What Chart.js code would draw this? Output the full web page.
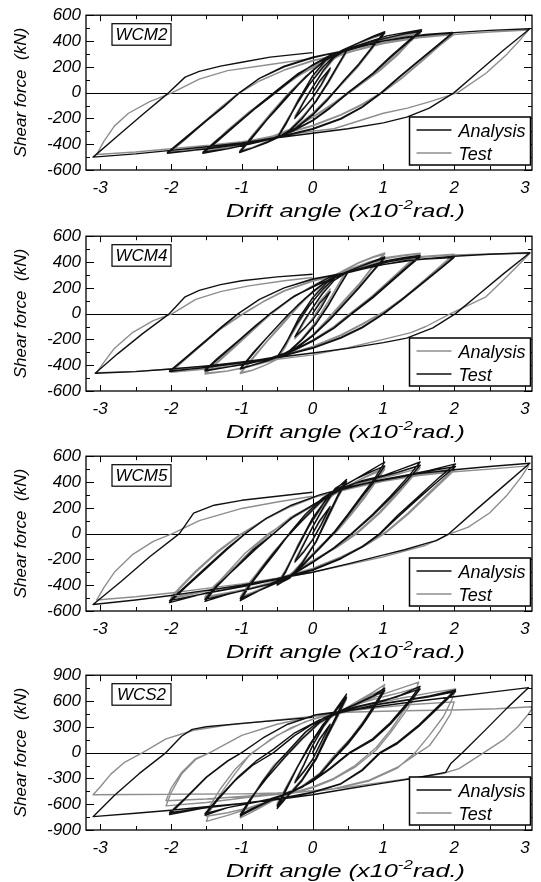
<!DOCTYPE html>
<html>
<head>
<meta charset="utf-8">
<title>Hysteresis loops</title>
<script src="https://cdn.jsdelivr.net/npm/chart.js@4.4.0/dist/chart.umd.min.js"></script>
<style>
  html, body { margin: 0; padding: 0; background: #fff; }
  #wrap { position: relative; width: 541px; height: 882px; overflow: hidden; }
  #wrap canvas { position: absolute; left: 0; }
</style>
</head>
<body>
<div id="wrap"></div>
<script>
// specimen names, series names and axis ticks
const specimens = ['WCM2', 'WCM4', 'WCM5', 'WCS2'];
const seriesLabels = ['Analysis', 'Test'];
const xTicks = [-3, -2, -1, 0, 1, 2, 3];
const yTicksSmall = [-600, -400, -200, 0, 200, 400, 600];
const yTicksLarge = [-900, -600, -300, 0, 300, 600, 900];

// [drift angle (x10^-2 rad), shear force (kN)]
const wcm2Analysis = [
  [0,0],[0.1,90],[0.25,190],
  [0.12,60],[0,-40],[-0.12,-120],[-0.25,-200],
  [-0.12,-70],[0,40],[0.15,170],[0.3,270],[0.5,340],
  [0.38,230],[0.22,80],[0.05,-70],[-0.15,-200],[-0.32,-290],[-0.5,-350],
  [-0.38,-240],[-0.22,-90],[-0.05,60],[0.15,200],[0.32,290],[0.5,345],
  [0.38,235],[0.22,85],[0.05,-65],[-0.15,-205],[-0.32,-295],[-0.5,-352],
  [-0.38,-250],[-0.2,-60],[0,130],[0.2,260],[0.42,330],[0.65,385],[0.85,435],[1.02,472],
  [0.85,360],[0.65,220],[0.45,100],[0.2,-60],[0,-170],[-0.25,-280],[-0.45,-335],[-0.65,-385],[-0.85,-430],[-1.03,-465],
  [-0.85,-350],[-0.65,-215],[-0.45,-95],[-0.2,60],[0,170],[0.25,285],[0.45,335],[0.65,385],[0.85,430],[1.02,462],
  [0.85,355],[0.65,215],[0.45,95],[0.2,-65],[0,-175],[-0.25,-285],[-0.45,-340],[-0.65,-390],[-0.85,-430],[-1.03,-458],
  [-0.85,-340],[-0.6,-180],[-0.35,-20],[-0.1,120],[0.15,240],[0.45,330],[0.8,395],[1.05,440],[1.3,465],[1.54,487],
  [1.35,400],[1.1,280],[0.85,150],[0.5,0],[0.25,-115],[0,-215],[-0.3,-300],[-0.6,-360],[-0.9,-400],[-1.2,-435],[-1.55,-470],
  [-1.35,-380],[-1.1,-260],[-0.8,-120],[-0.52,0],[-0.25,120],[0,215],[0.25,290],[0.5,335],[0.8,390],[1.1,430],[1.3,455],[1.54,476],
  [1.35,390],[1.1,270],[0.85,145],[0.5,-5],[0.25,-120],[0,-220],[-0.3,-305],[-0.6,-362],[-0.9,-400],[-1.2,-435],[-1.55,-462],
  [-1.35,-370],[-1.05,-230],[-0.75,-90],[-0.5,20],[-0.2,150],[0.1,240],[0.45,320],[0.9,390],[1.3,430],[1.6,450],[1.98,466],
  [1.75,360],[1.45,225],[1.2,110],[0.97,0],[0.7,-110],[0.4,-200],[0,-280],[-0.5,-345],[-1,-395],[-1.5,-435],[-2.05,-470],
  [-1.8,-360],[-1.5,-220],[-1.25,-110],[-1.03,0],[-0.75,110],[-0.4,200],[0,270],[0.45,325],[0.9,390],[1.3,430],[1.6,448],[1.98,460],
  [1.75,355],[1.45,220],[1.2,105],[0.97,-5],[0.7,-115],[0.4,-205],[0,-285],[-0.5,-350],[-1,-400],[-1.5,-438],[-2.05,-465],
  [-1.8,-350],[-1.5,-215],[-1.25,-105],[-1.03,0],[-0.75,110],[-0.4,205],[0,275],[0.5,330],[1,400],[1.5,440],[2,465],[2.5,482],[3.07,495],
  [2.7,330],[2.35,165],[2,0],[1.65,-120],[1.33,-190],[1,-235],[0.5,-280],[0,-315],[-0.5,-350],[-1,-390],[-1.5,-420],[-2,-448],[-2.5,-475],[-3.1,-500],
  [-2.75,-335],[-2.4,-170],[-2.03,0],[-1.8,120],[-1.6,165],[-1.3,205],[-1,235],[-0.6,275],[0,310]
];
const wcm2Test = [
  [0,0],[0.1,80],[0.25,175],
  [0.12,50],[0,-45],[-0.12,-115],[-0.25,-185],
  [-0.12,-60],[0,45],[0.15,160],[0.3,260],[0.5,330],
  [0.38,220],[0.22,70],[0.05,-60],[-0.15,-190],[-0.32,-285],[-0.5,-345],
  [-0.38,-230],[-0.22,-80],[-0.05,60],[0.15,190],[0.32,285],[0.5,335],
  [0.38,225],[0.22,75],[0.05,-60],[-0.15,-195],[-0.32,-290],[-0.5,-348],
  [-0.38,-240],[-0.2,-50],[0,120],[0.2,250],[0.42,320],[0.65,380],[0.85,425],[1.0,455],
  [0.85,350],[0.65,210],[0.45,90],[0.2,-50],[0,-160],[-0.25,-270],[-0.45,-330],[-0.65,-380],[-0.85,-425],[-1.02,-455],
  [-0.85,-345],[-0.65,-205],[-0.45,-85],[-0.2,65],[0,175],[0.25,280],[0.45,330],[0.65,380],[0.85,422],[1.0,450],
  [0.85,345],[0.65,205],[0.45,85],[0.2,-55],[0,-165],[-0.25,-275],[-0.45,-335],[-0.65,-385],[-0.85,-425],[-1.02,-448],
  [-0.85,-330],[-0.6,-165],[-0.35,-10],[-0.1,125],[0.15,235],[0.45,320],[0.8,385],[1.05,425],[1.3,450],[1.52,470],
  [1.38,400],[1.2,300],[0.95,180],[0.6,40],[0.3,-80],[0,-190],[-0.3,-280],[-0.6,-345],[-0.9,-390],[-1.2,-425],[-1.52,-455],
  [-1.38,-385],[-1.2,-290],[-0.9,-150],[-0.55,-10],[-0.25,110],[0,200],[0.25,275],[0.5,325],[0.8,380],[1.1,420],[1.3,440],[1.52,460],
  [1.38,395],[1.2,290],[0.95,170],[0.6,30],[0.3,-85],[0,-195],[-0.3,-285],[-0.6,-350],[-0.9,-392],[-1.2,-425],[-1.52,-450],
  [-1.38,-380],[-1.1,-250],[-0.8,-110],[-0.5,10],[-0.2,130],[0.1,220],[0.45,300],[0.9,375],[1.3,420],[1.6,440],[2.0,455],
  [1.82,380],[1.55,250],[1.25,110],[1.0,10],[0.7,-90],[0.4,-170],[0,-255],[-0.5,-330],[-1,-385],[-1.5,-425],[-2.0,-455],
  [-1.82,-375],[-1.55,-240],[-1.3,-120],[-1.05,-10],[-0.75,90],[-0.4,175],[0,245],[0.45,305],[0.9,375],[1.3,418],[1.6,438],[2.0,450],
  [1.82,375],[1.55,245],[1.25,105],[1.0,5],[0.7,-95],[0.4,-175],[0,-260],[-0.5,-335],[-1,-388],[-1.5,-428],[-2.0,-450],
  [-1.82,-370],[-1.55,-235],[-1.3,-115],[-1.05,-5],[-0.75,90],[-0.4,175],[0,250],[0.5,310],[1,380],[1.5,425],[2,450],[2.5,470],[3.05,485],
  [2.95,420],[2.75,300],[2.45,150],[2.05,0],[1.66,-70],[1.34,-120],[1,-160],[0.3,-280],[0,-300],[-0.5,-340],[-1,-380],[-1.5,-410],[-2,-435],[-2.5,-460],[-3.05,-480],
  [-2.95,-380],[-2.8,-260],[-2.6,-160],[-2.3,-70],[-1.98,0],[-1.6,105],[-1.2,170],[-0.6,218],[0,265]
];

const wcm4Analysis = [
  [0,0],[0.1,95],[0.25,190],
  [0.12,65],[0,-35],[-0.12,-120],[-0.25,-195],
  [-0.12,-70],[0,40],[0.15,175],[0.3,275],[0.5,345],
  [0.38,240],[0.22,90],[0.05,-60],[-0.15,-195],[-0.32,-290],[-0.5,-352],
  [-0.38,-245],[-0.22,-95],[-0.05,55],[0.15,200],[0.32,295],[0.5,350],
  [0.38,242],[0.22,92],[0.05,-58],[-0.15,-198],[-0.32,-295],[-0.5,-355],
  [-0.38,-255],[-0.2,-65],[0,125],[0.2,255],[0.42,330],[0.65,395],[0.85,440],[1.02,470],
  [0.85,365],[0.65,225],[0.45,105],[0.2,-50],[0,-165],[-0.25,-280],[-0.45,-340],[-0.65,-395],[-0.85,-440],[-1.02,-465],
  [-0.85,-355],[-0.65,-220],[-0.45,-100],[-0.2,55],[0,165],[0.25,285],[0.45,335],[0.65,392],[0.85,435],[1.02,462],
  [0.85,358],[0.65,218],[0.45,98],[0.2,-55],[0,-170],[-0.25,-283],[-0.45,-342],[-0.65,-395],[-0.85,-438],[-1.02,-458],
  [-0.85,-345],[-0.6,-185],[-0.35,-25],[-0.1,115],[0.15,235],[0.45,330],[0.8,400],[1.05,435],[1.3,455],[1.52,468],
  [1.35,390],[1.1,265],[0.85,140],[0.55,10],[0.3,-100],[0,-205],[-0.3,-300],[-0.6,-365],[-0.9,-410],[-1.2,-445],[-1.52,-468],
  [-1.35,-385],[-1.1,-260],[-0.85,-135],[-0.58,0],[-0.3,120],[0,215],[0.25,290],[0.5,335],[0.8,395],[1.1,432],[1.3,450],[1.52,462],
  [1.35,383],[1.1,258],[0.85,133],[0.55,5],[0.3,-105],[0,-210],[-0.3,-303],[-0.6,-368],[-0.9,-412],[-1.2,-445],[-1.52,-462],
  [-1.35,-375],[-1.05,-225],[-0.8,-100],[-0.55,10],[-0.25,135],[0.1,235],[0.45,320],[0.9,395],[1.3,430],[1.6,445],[2.0,460],
  [1.85,390],[1.6,270],[1.3,130],[1.02,20],[0.7,-80],[0.4,-165],[0,-255],[-0.5,-340],[-1,-395],[-1.5,-430],[-2.0,-455],
  [-1.85,-380],[-1.6,-260],[-1.3,-120],[-1.0,-10],[-0.7,90],[-0.4,175],[0,250],[0.45,315],[0.9,392],[1.3,428],[1.6,442],[2.0,455],
  [1.85,385],[1.6,265],[1.3,125],[1.02,15],[0.7,-85],[0.4,-170],[0,-260],[-0.5,-342],[-1,-396],[-1.5,-430],[-2.0,-450],
  [-1.85,-372],[-1.6,-252],[-1.3,-115],[-1.0,-5],[-0.7,92],[-0.4,178],[0,255],[0.5,325],[1,395],[1.5,435],[2,455],[2.5,462],[3.07,468],
  [2.95,400],[2.75,290],[2.45,130],[1.95,0],[1.6,-100],[1.39,-148],[1,-200],[0.5,-265],[0,-320],[-0.5,-355],[-1,-385],[-1.5,-410],[-2,-430],[-2.5,-448],[-3.05,-458],
  [-2.95,-380],[-2.8,-270],[-2.55,-150],[-2.25,-55],[-1.98,0],[-1.65,110],[-1.3,170],[-0.9,215],[-0.4,255],[0,280]
];
const wcm4Test = [
  [0,0],[0.1,80],[0.25,170],
  [0.12,45],[0,-50],[-0.12,-115],[-0.25,-180],
  [-0.12,-55],[0,45],[0.15,160],[0.3,255],[0.5,325],
  [0.38,215],[0.22,65],[0.05,-75],[-0.15,-200],[-0.32,-285],[-0.5,-340],
  [-0.38,-230],[-0.22,-80],[-0.05,60],[0.15,190],[0.32,280],[0.5,320],
  [0.38,210],[0.22,60],[0.05,-80],[-0.15,-205],[-0.32,-290],[-0.5,-335],
  [-0.38,-235],[-0.2,-40],[0,120],[0.2,240],[0.42,310],[0.65,360],[0.85,405],[1.02,440],
  [0.85,330],[0.65,200],[0.45,80],[0.25,-40],[0,-170],[-0.25,-270],[-0.45,-325],[-0.65,-365],[-0.85,-400],[-1.02,-430],
  [-0.85,-320],[-0.65,-190],[-0.45,-70],[-0.2,70],[0,170],[0.25,270],[0.45,315],[0.65,360],[0.85,400],[1.02,430],
  [0.85,325],[0.65,195],[0.45,75],[0.25,-45],[0,-175],[-0.25,-275],[-0.45,-330],[-0.65,-368],[-0.85,-400],[-1.02,-425],
  [-0.85,-310],[-0.6,-160],[-0.35,-10],[-0.1,120],[0.15,230],[0.45,315],[0.8,370],[1.05,410],[1.3,435],[1.52,450],
  [1.35,370],[1.1,250],[0.85,130],[0.55,0],[0.3,-110],[0,-210],[-0.3,-290],[-0.6,-345],[-0.9,-385],[-1.2,-415],[-1.52,-445],
  [-1.35,-360],[-1.1,-240],[-0.85,-120],[-0.6,0],[-0.3,120],[0,210],[0.25,285],[0.5,320],[0.8,365],[1.1,405],[1.3,425],[1.52,440],
  [1.35,362],[1.1,242],[0.85,122],[0.55,-5],[0.3,-115],[0,-215],[-0.3,-295],[-0.6,-348],[-0.9,-387],[-1.2,-415],[-1.52,-440],
  [-1.35,-350],[-1.05,-210],[-0.8,-90],[-0.55,20],[-0.25,140],[0.1,230],[0.45,310],[0.9,370],[1.3,410],[1.6,425],[2.0,440],
  [1.8,350],[1.5,215],[1.25,105],[1.0,0],[0.7,-105],[0.4,-185],[0,-265],[-0.5,-335],[-1,-380],[-1.5,-415],[-2.02,-450],
  [-1.8,-350],[-1.5,-210],[-1.28,-105],[-1.05,0],[-0.75,110],[-0.4,200],[0,265],[0.45,312],[0.9,370],[1.3,410],[1.6,423],[2.0,435],
  [1.8,345],[1.5,210],[1.25,100],[1.0,-5],[0.7,-110],[0.4,-190],[0,-270],[-0.5,-338],[-1,-382],[-1.5,-418],[-2.02,-445],
  [-1.8,-345],[-1.5,-205],[-1.28,-100],[-1.05,0],[-0.75,110],[-0.4,200],[0,268],[0.5,320],[1,380],[1.5,420],[2,445],[2.5,460],[3.07,472],
  [2.7,310],[2.35,150],[2.02,0],[1.7,-110],[1.33,-190],[1,-225],[0.5,-270],[0,-305],[-0.5,-340],[-1,-375],[-1.5,-405],[-2,-430],[-2.5,-450],[-3.07,-462],
  [-2.75,-310],[-2.4,-155],[-2.02,0],[-1.8,130],[-1.6,180],[-1.3,225],[-1,255],[-0.5,285],[0,305]
];

const wcm5Analysis = [
  [0,0],[0.1,100],[0.25,210],
  [0.12,70],[0,-50],[-0.12,-140],[-0.25,-220],
  [-0.12,-80],[0,50],[0.15,200],[0.3,330],[0.48,420],
  [0.36,300],[0.2,120],[0.05,-60],[-0.15,-230],[-0.32,-340],[-0.5,-400],
  [-0.38,-290],[-0.22,-120],[-0.05,60],[0.15,230],[0.32,350],[0.48,405],
  [0.36,290],[0.2,110],[0.05,-65],[-0.15,-235],[-0.32,-345],[-0.5,-395],
  [-0.38,-300],[-0.2,-90],[0,120],[0.2,270],[0.35,340],[0.6,420],[0.85,500],[1.02,555],
  [0.88,430],[0.7,300],[0.5,150],[0.3,10],[0.1,-110],[-0.15,-250],[-0.35,-340],[-0.6,-400],[-0.85,-470],[-1.02,-520],
  [-0.88,-400],[-0.7,-270],[-0.5,-130],[-0.3,20],[-0.1,150],[0.15,280],[0.35,345],[0.6,420],[0.85,485],[1.02,525],
  [0.88,410],[0.7,285],[0.5,140],[0.3,0],[0.1,-115],[-0.15,-255],[-0.35,-345],[-0.6,-405],[-0.85,-465],[-1.02,-505],
  [-0.88,-390],[-0.65,-220],[-0.4,-50],[-0.15,100],[0.1,240],[0.35,340],[0.7,410],[1.0,450],[1.25,500],[1.52,555],
  [1.35,440],[1.1,290],[0.85,150],[0.55,0],[0.3,-110],[0,-220],[-0.3,-320],[-0.6,-390],[-0.9,-430],[-1.2,-470],[-1.52,-525],
  [-1.35,-410],[-1.1,-270],[-0.85,-130],[-0.55,0],[-0.3,120],[0,220],[0.3,320],[0.6,390],[0.9,430],[1.2,475],[1.52,530],
  [1.35,420],[1.1,275],[0.85,140],[0.55,-5],[0.3,-115],[0,-225],[-0.3,-325],[-0.6,-392],[-0.9,-432],[-1.2,-468],[-1.52,-510],
  [-1.35,-400],[-1.05,-250],[-0.8,-120],[-0.55,0],[-0.25,140],[0.1,250],[0.4,340],[0.9,410],[1.3,450],[1.65,490],[2.02,540],
  [1.8,440],[1.5,290],[1.2,140],[0.95,0],[0.7,-100],[0.4,-190],[0,-280],[-0.5,-350],[-1,-410],[-1.5,-460],[-2.02,-535],
  [-1.8,-420],[-1.5,-270],[-1.2,-120],[-0.95,0],[-0.65,120],[-0.3,220],[0.1,300],[0.4,345],[0.9,405],[1.3,445],[1.65,485],[2.02,520],
  [1.8,420],[1.5,275],[1.2,125],[0.95,-5],[0.7,-105],[0.4,-195],[0,-285],[-0.5,-355],[-1,-412],[-1.5,-462],[-2.02,-520],
  [-1.8,-410],[-1.5,-260],[-1.2,-110],[-0.95,0],[-0.65,120],[-0.3,220],[0.1,300],[0.5,360],[1,420],[1.5,465],[2,495],[2.5,520],[3.07,545],
  [2.7,370],[2.3,180],[1.93,0],[1.75,-55],[1.63,-72],[1.3,-125],[0.95,-173],[0.5,-235],[0,-300],[-0.5,-350],[-1,-400],[-1.5,-440],[-2,-480],[-2.5,-515],[-3.1,-550],
  [-2.7,-370],[-2.3,-180],[-1.88,0],[-1.68,158],[-1.39,220],[-1,258],[-0.5,290],[0,320]
];
const wcm5Test = [
  [0,0],[0.1,90],[0.25,195],
  [0.12,60],[0,-45],[-0.12,-130],[-0.25,-205],
  [-0.12,-70],[0,50],[0.15,190],[0.3,315],[0.48,400],
  [0.36,285],[0.2,105],[0.05,-60],[-0.15,-220],[-0.32,-325],[-0.5,-385],
  [-0.38,-280],[-0.22,-110],[-0.05,55],[0.15,215],[0.32,335],[0.48,395],
  [0.36,280],[0.2,100],[0.05,-65],[-0.15,-222],[-0.32,-330],[-0.5,-382],
  [-0.38,-290],[-0.2,-80],[0,115],[0.2,255],[0.35,325],[0.6,400],[0.85,470],[1.02,515],
  [0.9,420],[0.75,300],[0.55,160],[0.35,30],[0.1,-100],[-0.15,-240],[-0.35,-330],[-0.6,-395],[-0.85,-460],[-1.02,-505],
  [-0.9,-400],[-0.75,-280],[-0.55,-140],[-0.3,10],[-0.1,140],[0.15,265],[0.35,330],[0.6,400],[0.85,462],[1.02,500],
  [0.9,405],[0.75,288],[0.55,150],[0.35,20],[0.1,-105],[-0.15,-245],[-0.35,-335],[-0.6,-398],[-0.85,-455],[-1.02,-490],
  [-0.9,-385],[-0.65,-215],[-0.4,-45],[-0.15,95],[0.1,230],[0.35,325],[0.7,395],[1.0,440],[1.25,480],[1.52,530],
  [1.4,450],[1.2,320],[0.95,170],[0.65,20],[0.35,-100],[0,-210],[-0.3,-310],[-0.6,-380],[-0.9,-425],[-1.2,-460],[-1.52,-500],
  [-1.4,-420],[-1.2,-300],[-0.95,-150],[-0.62,0],[-0.3,115],[0,210],[0.3,310],[0.6,380],[0.9,420],[1.2,460],[1.52,510],
  [1.4,432],[1.2,305],[0.95,158],[0.65,10],[0.35,-105],[0,-215],[-0.3,-315],[-0.6,-383],[-0.9,-426],[-1.2,-458],[-1.52,-490],
  [-1.4,-410],[-1.1,-260],[-0.85,-120],[-0.6,0],[-0.3,130],[0.05,235],[0.4,330],[0.9,400],[1.3,440],[1.65,470],[2.0,505],
  [1.88,440],[1.65,320],[1.35,160],[1.05,20],[0.75,-85],[0.4,-180],[0,-270],[-0.5,-345],[-1,-400],[-1.5,-445],[-2.0,-505],
  [-1.88,-430],[-1.65,-300],[-1.35,-150],[-1.02,-10],[-0.7,100],[-0.35,200],[0.05,285],[0.4,335],[0.9,398],[1.3,435],[1.65,465],[2.0,490],
  [1.88,428],[1.65,308],[1.35,150],[1.05,12],[0.75,-92],[0.4,-185],[0,-275],[-0.5,-348],[-1,-402],[-1.5,-447],[-2.0,-495],
  [-1.88,-420],[-1.65,-290],[-1.35,-140],[-1.02,-5],[-0.7,100],[-0.35,200],[0.05,285],[0.5,345],[1,405],[1.5,450],[2,480],[2.5,500],[3.05,525],
  [2.95,440],[2.75,300],[2.5,160],[2.2,50],[1.95,0],[1.6,-90],[1.0,-180],[0.5,-240],[0,-300],[-0.5,-345],[-1,-390],[-1.5,-425],[-2,-460],[-2.5,-490],[-3.05,-515],
  [-2.95,-420],[-2.8,-300],[-2.55,-165],[-2.25,-60],[-1.98,0],[-1.6,100],[-1.0,195],[-0.5,245],[0,290]
];

const wcs2Analysis = [
  [0,0],[0.1,160],[0.25,330],
  [0.12,120],[0,-80],[-0.12,-220],[-0.25,-350],
  [-0.12,-140],[0,80],[0.15,300],[0.3,470],[0.48,680],
  [0.36,470],[0.2,200],[0.05,-60],[-0.15,-320],[-0.3,-460],[-0.5,-650],
  [-0.38,-450],[-0.22,-180],[-0.05,80],[0.15,330],[0.3,460],[0.48,640],
  [0.36,440],[0.2,180],[0.05,-80],[-0.15,-330],[-0.3,-465],[-0.5,-620],
  [-0.38,-430],[-0.2,-150],[0,130],[0.2,380],[0.35,470],[0.6,560],[0.85,660],[1.02,750],
  [0.88,560],[0.7,330],[0.5,120],[0.3,-60],[0.1,-250],[-0.15,-400],[-0.35,-465],[-0.6,-560],[-0.85,-660],[-1.02,-740],
  [-0.88,-560],[-0.7,-330],[-0.5,-120],[-0.3,60],[-0.1,240],[0.15,400],[0.35,470],[0.6,555],[0.85,650],[1.02,720],
  [0.88,535],[0.7,310],[0.5,100],[0.3,-75],[0.1,-260],[-0.15,-405],[-0.35,-470],[-0.6,-555],[-0.85,-650],[-1.02,-720],
  [-0.88,-540],[-0.65,-300],[-0.4,-60],[-0.15,160],[0.1,350],[0.35,465],[0.7,545],[1.0,600],[1.25,670],[1.52,770],
  [1.35,590],[1.1,350],[0.85,160],[0.52,0],[0.25,-180],[0,-330],[-0.3,-460],[-0.6,-540],[-0.9,-590],[-1.2,-640],[-1.52,-730],
  [-1.35,-560],[-1.1,-330],[-0.85,-150],[-0.55,0],[-0.25,200],[0,330],[0.3,455],[0.6,530],[0.9,585],[1.2,650],[1.52,740],
  [1.35,565],[1.1,330],[0.85,145],[0.52,-10],[0.25,-190],[0,-335],[-0.3,-465],[-0.6,-545],[-0.9,-592],[-1.2,-640],[-1.52,-710],
  [-1.35,-545],[-1.05,-280],[-0.8,-100],[-0.55,40],[-0.25,230],[0.1,380],[0.4,465],[0.9,560],[1.3,610],[1.65,660],[2.02,730],
  [1.8,560],[1.5,320],[1.2,120],[0.95,0],[0.7,-200],[0.4,-360],[0,-460],[-0.5,-540],[-1,-590],[-1.5,-640],[-2.02,-720],
  [-1.8,-540],[-1.5,-290],[-1.2,-100],[-1.0,0],[-0.7,170],[-0.35,330],[0.05,440],[0.4,470],[0.9,555],[1.3,605],[1.65,650],[2.02,710],
  [1.8,540],[1.5,305],[1.2,105],[0.95,-10],[0.7,-210],[0.4,-365],[0,-465],[-0.5,-545],[-1,-592],[-1.5,-642],[-2.02,-700],
  [-1.8,-530],[-1.5,-285],[-1.2,-95],[-1.0,0],[-0.7,170],[-0.35,330],[0.05,440],[0.5,490],[1,545],[1.5,600],[2,650],[2.5,700],[3.05,755],
  [2.75,520],[2.45,270],[2.12,0],[1.95,-130],[1.88,-230],[1.5,-290],[1,-355],[0.5,-420],[0,-490],[-0.5,-545],[-1,-590],[-1.5,-630],[-2,-670],[-2.5,-705],[-3.1,-745],
  [-2.8,-500],[-2.45,-245],[-2.07,0],[-1.85,190],[-1.7,270],[-1.5,300],[-1,340],[-0.5,375],[0,410]
];
const wcs2Test = [
  [0,0],[0.1,150],[0.25,310],
  [0.12,100],[0,-80],[-0.12,-210],[-0.25,-330],
  [-0.12,-130],[0,80],[0.15,290],[0.3,450],[0.48,650],
  [0.36,440],[0.2,180],[0.05,-70],[-0.15,-310],[-0.3,-450],[-0.5,-600],
  [-0.38,-420],[-0.22,-170],[-0.05,80],[0.15,315],[0.3,450],[0.48,620],
  [0.36,420],[0.2,170],[0.05,-80],[-0.15,-320],[-0.3,-455],[-0.5,-590],
  [-0.38,-410],[-0.2,-140],[0,130],[0.2,370],[0.35,460],[0.6,580],[0.85,700],[1.02,790],
  [0.92,620],[0.75,400],[0.55,180],[0.3,-40],[0.1,-240],[-0.15,-390],[-0.35,-460],[-0.6,-580],[-0.85,-690],[-1.02,-760],
  [-0.92,-600],[-0.75,-380],[-0.55,-150],[-0.3,50],[-0.1,230],[0.15,390],[0.35,460],[0.6,570],[0.85,680],[1.02,740],
  [0.92,580],[0.75,370],[0.55,160],[0.3,-60],[0.1,-250],[-0.15,-395],[-0.35,-465],[-0.6,-575],[-0.85,-670],[-1.02,-720],
  [-0.9,-560],[-0.65,-300],[-0.4,-70],[-0.15,150],[0.1,340],[0.35,460],[0.7,590],[1.0,680],[1.25,750],[1.5,820],
  [1.45,700],[1.3,500],[1.1,260],[0.9,60],[0.6,-150],[0.3,-300],[0,-400],[-0.3,-470],[-0.6,-560],[-0.9,-650],[-1.2,-730],[-1.5,-800],
  [-1.45,-680],[-1.3,-480],[-1.1,-250],[-0.9,-40],[-0.6,150],[-0.3,290],[0,390],[0.3,460],[0.7,580],[1.0,650],[1.25,700],[1.5,760],
  [1.45,650],[1.3,460],[1.1,230],[0.9,30],[0.6,-170],[0.3,-310],[0,-410],[-0.3,-475],[-0.6,-560],[-0.9,-640],[-1.2,-700],[-1.5,-740],
  [-1.45,-620],[-1.3,-420],[-1.1,-200],[-0.85,0],[-0.5,200],[-0.1,360],[0.3,455],[0.8,560],[1.3,640],[1.7,700],[2.02,740],
  [1.97,620],[1.85,420],[1.65,200],[1.45,0],[1.2,-180],[0.8,-330],[0.3,-420],[-0.3,-470],[-0.9,-520],[-1.5,-580],[-2.07,-620],
  [-2.0,-470],[-1.85,-250],[-1.65,-80],[-1.45,0],[-1.0,200],[-0.5,330],[0,420],[0.4,470],[0.9,520],[1.4,560],[2.0,590],
  [1.95,450],[1.8,250],[1.65,80],[1.5,0],[1.2,-170],[0.8,-320],[0.3,-420],[-0.3,-465],[-0.9,-505],[-1.5,-540],[-2.07,-560],
  [-2.0,-420],[-1.85,-230],[-1.65,-70],[-1.45,0],[-1.0,200],[-0.5,330],[0,420],[0.5,470],[1,480],[1.5,490],[2,495],[2.6,510],[3.12,534],
  [3.05,450],[2.9,300],[2.7,150],[2.42,0],[2.07,-187],[1.83,-246],[1.2,-320],[0.6,-390],[0.1,-445],[-0.5,-470],[-1,-480],[-2,-485],[-3.1,-490],
  [-3.0,-400],[-2.85,-250],[-2.65,-110],[-2.4,0],[-2.07,160],[-1.68,260],[-1.2,320],[-0.6,370],[0,420]
];

const BLACK = '#111111';
const GRAY = '#8e8e8e';
const FONT = '"Liberation Sans", Arial, Helvetica, sans-serif';

const panels = [
  { name: specimens[0], analysis: wcm2Analysis, test: wcm2Test, yTicks: yTicksSmall, yMinor: 100, top: 0,   analysisColor: BLACK, testColor: GRAY },
  { name: specimens[1], analysis: wcm4Analysis, test: wcm4Test, yTicks: yTicksSmall, yMinor: 100, top: 221, analysisColor: GRAY, testColor: BLACK },
  { name: specimens[2], analysis: wcm5Analysis, test: wcm5Test, yTicks: yTicksSmall, yMinor: 100, top: 441, analysisColor: BLACK, testColor: GRAY },
  { name: specimens[3], analysis: wcs2Analysis, test: wcs2Test, yTicks: yTicksLarge, yMinor: 150, top: 660, analysisColor: BLACK, testColor: GRAY }
];

// frame, inward ticks, zero lines, titles, specimen tag and legend box
const decor = {
  id: 'decor',
  beforeDatasetsDraw(chart) {
    const ctx = chart.ctx, a = chart.chartArea;
    const x0 = Math.round(chart.scales.x.getPixelForValue(0)) + 0.5;
    const y0 = Math.round(chart.scales.y.getPixelForValue(0)) + 0.5;
    ctx.save();
    ctx.strokeStyle = '#000';
    ctx.lineWidth = 1;
    ctx.beginPath();
    ctx.moveTo(a.left, y0); ctx.lineTo(a.right, y0);
    ctx.moveTo(x0, a.top); ctx.lineTo(x0, a.bottom);
    ctx.stroke();
    ctx.restore();
  },
  afterDatasetsDraw(chart, args, opts) {
    const ctx = chart.ctx, a = chart.chartArea;
    const xs = chart.scales.x, ys = chart.scales.y;
    ctx.save();
    ctx.strokeStyle = '#000';
    ctx.lineWidth = 1.3;
    ctx.strokeRect(a.left, a.top, a.right - a.left, a.bottom - a.top);

    // inward tick marks on all four sides
    ctx.lineWidth = 1;
    ctx.beginPath();
    const xLo = xTicks[0], xHi = xTicks[xTicks.length - 1];
    for (let v = xLo; v <= xHi + 1e-9; v += 0.5) {
      const px = Math.round(xs.getPixelForValue(v)) + 0.5;
      const len = Math.abs(v % 1) < 1e-9 ? 6 : 4;
      ctx.moveTo(px, a.bottom); ctx.lineTo(px, a.bottom - len);
      ctx.moveTo(px, a.top); ctx.lineTo(px, a.top + len);
    }
    const yLo = opts.yTicks[0], yHi = opts.yTicks[opts.yTicks.length - 1];
    const yMajor = opts.yTicks[1] - opts.yTicks[0];
    for (let v = yLo; v <= yHi + 1e-9; v += opts.yMinor) {
      const py = Math.round(ys.getPixelForValue(v)) + 0.5;
      const len = Math.abs(v % yMajor) < 1e-9 ? 8 : 4;
      ctx.moveTo(a.left, py); ctx.lineTo(a.left + len, py);
      ctx.moveTo(a.right, py); ctx.lineTo(a.right - len, py);
    }
    ctx.stroke();
    ctx.restore();
  },
  afterDraw(chart, args, opts) {
    const ctx = chart.ctx, a = chart.chartArea;
    ctx.save();
    ctx.fillStyle = '#000';
    ctx.strokeStyle = '#000';

    // y axis title
    ctx.font = 'italic 17px ' + FONT;
    ctx.textAlign = 'center';
    ctx.textBaseline = 'middle';
    ctx.save();
    ctx.translate(21, (a.top + a.bottom) / 2);
    ctx.rotate(-Math.PI / 2);
    ctx.fillText('Shear force  (kN)', 0, 0);
    ctx.restore();

    // x axis title with superscript, stretched sideways like the source
    const main = 'Drift angle (x10', sup = '-2', tail = 'rad.)';
    ctx.textAlign = 'left';
    ctx.textBaseline = 'alphabetic';
    ctx.font = 'italic 18px ' + FONT;
    const w1 = ctx.measureText(main).width;
    const w3 = ctx.measureText(tail).width;
    ctx.font = 'italic 12px ' + FONT;
    const w2 = ctx.measureText(sup).width;
    const total = w1 + w2 + w3;
    const sx = 239 / total;
    ctx.save();
    ctx.translate(226, a.bottom + 47);
    ctx.scale(sx, 1);
    ctx.font = 'italic 18px ' + FONT;
    ctx.fillText(main, 0, 0);
    ctx.font = 'italic 12px ' + FONT;
    ctx.fillText(sup, w1, -8);
    ctx.font = 'italic 18px ' + FONT;
    ctx.fillText(tail, w1 + w2, 0);
    ctx.restore();

    // specimen tag
    const tx = a.left + 26, ty = a.top + 8.5;
    ctx.lineWidth = 1.2;
    ctx.strokeRect(tx, ty, 59, 21.5);
    ctx.font = 'italic 17px ' + FONT;
    ctx.textAlign = 'center';
    ctx.textBaseline = 'middle';
    ctx.fillText(opts.name, tx + 29.5, ty + 11.5);

    // legend box
    const bw = 121, bh = 48;
    const bx = a.right - bw - 1.5, by = a.bottom - bh - 5;
    ctx.fillStyle = '#fff';
    ctx.fillRect(bx, by, bw, bh);
    ctx.lineWidth = 1.5;
    ctx.strokeRect(bx, by, bw, bh);
    ctx.textAlign = 'left';
    ctx.textBaseline = 'alphabetic';
    ctx.font = 'italic 18px ' + FONT;
    chart.data.datasets.forEach((ds, i) => {
      const ly = by + 13 + i * 23;
      ctx.strokeStyle = ds.borderColor;
      ctx.lineWidth = 1.6;
      ctx.beginPath();
      ctx.moveTo(bx + 7, ly); ctx.lineTo(bx + 42, ly);
      ctx.stroke();
      ctx.fillStyle = '#000';
      ctx.fillText(ds.label, bx + 49, ly + 6.5);
    });
    ctx.restore();
  }
};

const wrap = document.getElementById('wrap');

panels.forEach(p => {
  const canvas = document.createElement('canvas');
  canvas.width = 541;
  canvas.height = 222;
  canvas.style.top = p.top + 'px';
  canvas.style.width = '541px';
  canvas.style.height = '222px';
  wrap.appendChild(canvas);

  const yMax = p.yTicks[p.yTicks.length - 1];
  new Chart(canvas, {
    type: 'scatter',
    data: {
      datasets: [
        {
          label: seriesLabels[0],
          data: p.analysis.map(pt => ({ x: pt[0], y: pt[1] })),
          borderColor: p.analysisColor,
          order: p.analysisColor === BLACK ? 0 : 1
        },
        {
          label: seriesLabels[1],
          data: p.test.map(pt => ({ x: pt[0], y: pt[1] })),
          borderColor: p.testColor,
          order: p.testColor === BLACK ? 0 : 1
        }
      ].map(ds => Object.assign(ds, {
        showLine: true,
        pointRadius: 0,
        borderWidth: 1.4,
        borderJoinStyle: 'round',
        tension: 0,
        fill: false
      }))
    },
    options: {
      responsive: false,
      animation: false,
      events: [],
      layout: { padding: { left: 0, right: 9, top: 12, bottom: 0 } },
      plugins: {
        legend: { display: false },
        tooltip: { enabled: false },
        decor: { name: p.name, yTicks: p.yTicks, yMinor: p.yMinor }
      },
      scales: {
        x: {
          type: 'linear',
          min: -3.2,
          max: 3.1,
          afterFit(scale) { scale.height = 52; },
          afterBuildTicks(scale) { scale.ticks = xTicks.map(v => ({ value: v })); },
          ticks: {
            color: '#000',
            padding: 8,
            maxRotation: 0,
            font: { family: FONT, size: 17, style: 'italic' }
          },
          grid: { display: false, drawTicks: false },
          border: { display: false }
        },
        y: {
          type: 'linear',
          min: -yMax,
          max: yMax,
          afterFit(scale) { scale.width = 86; },
          afterBuildTicks(scale) { scale.ticks = p.yTicks.map(v => ({ value: v })); },
          ticks: {
            color: '#000',
            padding: 5,
            font: { family: FONT, size: 17, style: 'italic' }
          },
          grid: { display: false, drawTicks: false },
          border: { display: false }
        }
      }
    },
    plugins: [decor]
  });
});
</script>
</body>
</html>
